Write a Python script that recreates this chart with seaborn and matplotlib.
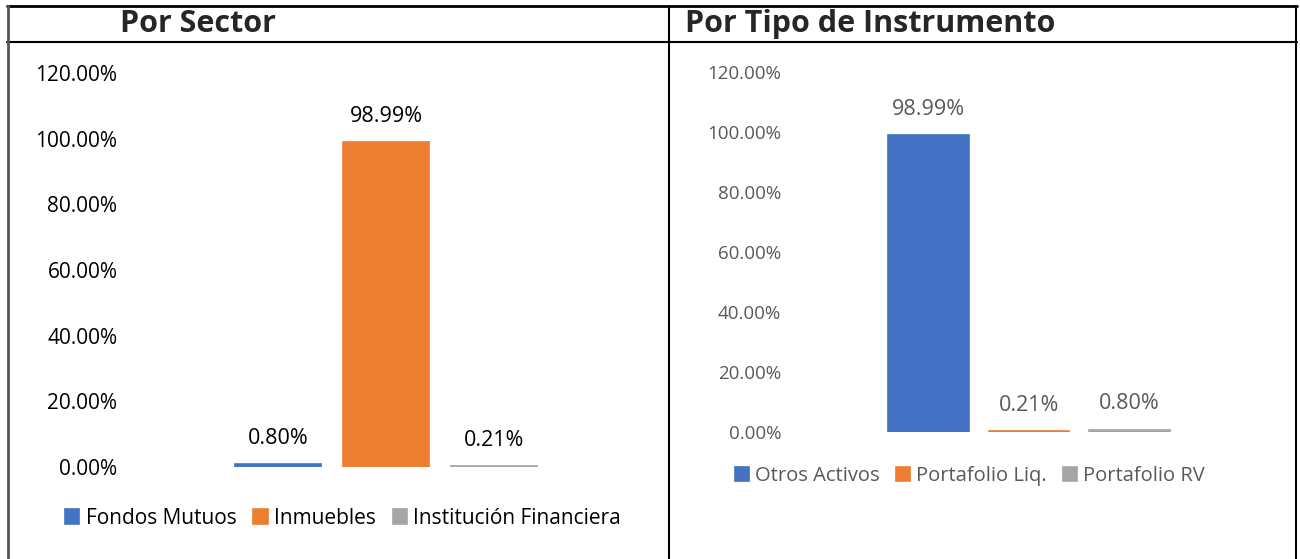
import pandas as pd
import seaborn as sns
import matplotlib.pyplot as plt
from matplotlib.lines import Line2D

# Datos
sector_cats = ['Fondos Mutuos', 'Inmuebles', 'Institución Financiera']
sector_vals = [0.80, 98.99, 0.21]

instr_cats = ['Otros Activos', 'Portafolio Liq.', 'Portafolio RV']
instr_vals = [98.99, 0.21, 0.80]

yticks = [0, 20, 40, 60, 80, 100, 120]
palette = ['#4472C4', '#ED7D31', '#A5A5A5']

sns.set_style('white')
plt.rcParams['font.family'] = ['Open Sans', 'DejaVu Sans']

fig = plt.figure(figsize=(13, 5.59), dpi=100)
W, H = 1300, 559


def fx(px):
    return px / W


def fy(py):
    return 1 - py / H


def panel(ax, cats, vals, txt_color, tick_fs, lab_fs, leg_fs, tick_pad, span, legend_xy):
    df = pd.DataFrame({'cat': cats, 'val': vals})
    sns.barplot(data=df, x='cat', y='val', hue='cat', palette=palette, saturation=1,
                dodge=False, width=0.8, legend=True, ax=ax)
    # barras pequeñas visibles como en Excel
    for p in ax.patches:
        p.set_edgecolor(p.get_facecolor())
        p.set_linewidth(1.2)
    ax.set_ylim(0, 120)
    ax.set_xlim(1 - span, 1 + span)
    ax.set_yticks(yticks)
    ax.set_yticklabels([f'{t:.2f}%' for t in yticks], fontsize=tick_fs, color=txt_color)
    ax.tick_params(axis='y', length=0, pad=tick_pad)
    ax.set_xticks([])
    ax.set_xlabel('')
    ax.set_ylabel('')
    for s in ax.spines.values():
        s.set_visible(False)
    for c in ax.containers:
        ax.bar_label(c, fmt='{:.2f}%', padding=11, fontsize=lab_fs, color=txt_color)
    handles, labels = ax.get_legend_handles_labels()
    ax.get_legend().remove()
    fig.legend(handles, labels, loc='center', ncol=3, frameon=False,
               bbox_to_anchor=legend_xy, bbox_transform=fig.transFigure,
               fontsize=leg_fs, labelcolor=txt_color, handlelength=0.7,
               handleheight=0.7, handletextpad=0.3, columnspacing=0.8)


# Panel izquierdo
ax1 = fig.add_axes([fx(130), fy(467), fx(642 - 130), fy(73) - fy(467)])
panel(ax1, sector_cats, sector_vals, '#000000', 15, 15.5, 15, 9, 2.37, (fx(343), fy(518)))

# Panel derecho
ax2 = fig.add_axes([fx(788), fy(432), fx(1270 - 788), fy(72) - fy(432)])
panel(ax2, instr_cats, instr_vals, '#595959', 13.5, 15.5, 14.5, 5, 2.4, (fx(970), fy(476)))

# Titulos
fig.text(fx(120), fy(24), 'Por Sector', fontsize=22, fontweight='bold',
         ha='left', va='center')
fig.text(fx(685), fy(24), 'Por Tipo de Instrumento', fontsize=22, fontweight='bold',
         ha='left', va='center')

# Bordes de la tabla
fig.add_artist(Line2D([fx(7), fx(1297)], [fy(6), fy(6)], transform=fig.transFigure,
                      color='black', lw=2))
fig.add_artist(Line2D([fx(7), fx(1297)], [fy(42), fy(42)], transform=fig.transFigure,
                      color='black', lw=1.5))
fig.add_artist(Line2D([fx(8), fx(8)], [fy(6), 0], transform=fig.transFigure,
                      color='#555555', lw=2))
fig.add_artist(Line2D([fx(669), fx(669)], [fy(6), 0], transform=fig.transFigure,
                      color='black', lw=1.5))
fig.add_artist(Line2D([fx(1296), fx(1296)], [fy(6), 0], transform=fig.transFigure,
                      color='black', lw=1.5))

fig.savefig('out.png', dpi=100)
